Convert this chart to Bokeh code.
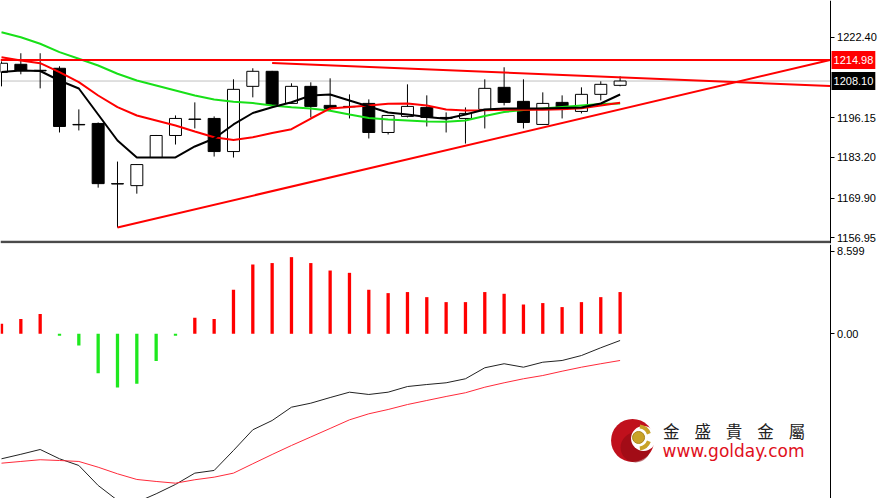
import numpy as np
from bokeh.plotting import figure
from bokeh.layouts import column
from bokeh.models import ColumnDataSource, Range1d, FixedTicker, Label, PrintfTickFormatter
from bokeh.core.properties import value
from bokeh.embed import file_html
from bokeh.resources import INLINE

# ---------------- data ----------------
bar_index = list(range(33))
open_ = [1210.95, 1213.56, 1211.60, 1212.26, 1193.93, 1194.26, 1174.62, 1173.97, 1183.13, 1190.33,
         1195.57, 1195.89, 1185.09, 1206.36, 1211.27, 1200.80, 1206.36, 1200.15, 1199.82, 1200.80,
         1191.31, 1196.55, 1199.49, 1196.22, 1195.89, 1198.84, 1206.04, 1201.46, 1193.93, 1201.13,
         1198.18, 1203.75, 1206.69]
high = [1214.50, 1217.16, 1217.16, 1212.91, 1198.84, 1194.58, 1181.82, 1181.00, 1190.50, 1196.87,
        1201.13, 1196.55, 1208.66, 1212.26, 1211.40, 1207.35, 1207.67, 1208.98, 1203.75, 1202.11,
        1196.87, 1207.02, 1203.42, 1197.86, 1199.49, 1208.66, 1212.58, 1208.66, 1204.40, 1203.42,
        1206.04, 1208.00, 1209.64]
low = [1206.36, 1210.29, 1205.71, 1191.31, 1191.97, 1173.31, 1160.31, 1171.35, 1183.13, 1187.38,
       1192.62, 1183.46, 1183.13, 1202.77, 1199.82, 1200.60, 1196.22, 1198.51, 1195.89, 1189.35,
       1190.66, 1196.22, 1193.27, 1191.31, 1187.70, 1192.62, 1200.15, 1192.62, 1193.93, 1195.89,
       1197.53, 1201.78, 1206.36]
close = [1213.89, 1211.60, 1211.40, 1193.27, 1193.80, 1174.62, 1174.50, 1180.84, 1190.33, 1195.89,
         1195.70, 1185.09, 1205.38, 1211.27, 1200.47, 1206.36, 1199.82, 1199.17, 1199.70, 1191.31,
         1196.87, 1199.82, 1196.22, 1195.89, 1197.53, 1205.71, 1201.13, 1194.58, 1200.80, 1199.49,
         1203.75, 1207.02, 1208.10]

ma_fast = [1211.05, 1211.53, 1211.37, 1208.27, 1205.66, 1197.18, 1188.70, 1183.15, 1183.15, 1183.15,
           1186.74, 1189.35, 1193.92, 1197.67, 1199.56, 1201.19, 1203.38, 1203.70, 1201.75, 1199.79,
           1197.83, 1197.18, 1196.36, 1195.78, 1197.18, 1198.81, 1199.14, 1199.14, 1199.14, 1199.30,
           1199.46, 1200.77, 1203.70]
ma_mid = [1215.87, 1214.80, 1213.92, 1210.98, 1207.72, 1203.38, 1199.56, 1196.85, 1195.22, 1193.59,
          1191.63, 1189.77, 1188.86, 1189.77, 1191.14, 1192.38, 1195.87, 1199.14, 1199.63, 1200.12,
          1200.67, 1200.77, 1200.12, 1198.81, 1198.48, 1198.58, 1198.71, 1198.71, 1198.71, 1198.91,
          1199.23, 1200.12, 1201.00]
ma_slow = [1224.03, 1222.40, 1220.25, 1217.51, 1215.35, 1213.17, 1210.46, 1208.27, 1206.64, 1205.01,
           1203.38, 1202.07, 1201.36, 1200.93, 1200.12, 1199.56, 1199.14, 1198.39, 1197.18, 1196.04,
           1195.55, 1195.22, 1194.90, 1194.83, 1195.22, 1196.69, 1197.99, 1198.65, 1199.14, 1199.63,
           1200.12, 1200.60, 1200.77]

macd_hist = [1.04, 1.54, 2.06, -0.21, -1.22, -4.11, -5.61, -5.22, -2.85, -0.21,
             1.67, 1.54, 4.60, 7.24, 7.39, 8.01, 7.39, 6.61, 6.37, 4.60,
             4.25, 4.36, 3.83, 3.31, 3.31, 4.36, 4.18, 3.06, 3.21, 2.79,
             3.31, 3.83, 4.36]
macd_main = [-13.06, -12.59, -12.09, -13.06, -13.76, -15.85, -17.40, -17.60, -16.72, -15.74,
             -14.56, -14.28, -12.19, -10.03, -9.06, -7.67, -7.25, -6.66, -6.10, -6.34,
             -6.10, -5.51, -5.30, -5.12, -4.70, -3.55, -3.13, -3.49, -2.97, -2.79,
             -2.27, -1.46, -0.70]
macd_signal = [-13.52, -13.34, -13.16, -13.24, -13.34, -13.94, -14.63, -15.22, -15.43, -15.61,
               -15.25, -14.98, -14.56, -13.58, -12.61, -11.67, -10.78, -9.89, -8.99, -8.36,
               -7.91, -7.39, -6.97, -6.55, -6.16, -5.58, -5.12, -4.70, -4.36, -3.91,
               -3.49, -3.13, -2.79]

price_ticks = [1156.95, 1169.90, 1183.20, 1196.15, 1222.40]
macd_ticks = [0.0, 8.599]
resistance_level = 1214.98
last_price = 1208.10
support_x = [6, 42.86]
support_y = [1160.31, 1214.98]
falling_x = [14, 42.86]
falling_y = [1213.98, 1206.48]

brand_cn = ["金", "盛", "貴", "金", "屬"]
brand_url = "www.golday.com"

# ---------------- layout ----------------
W = 880
H1 = 244          # price panel (frame 243 px + 1 px border)
H2 = 254          # indicator panel
X0, X1 = -0.052, 45.47
AXIS_X = 42.86    # position of the price scale inside the frame
BODY_W = 0.62
HIST_W = 0.17
x_range = Range1d(X0, X1)

def style(p, ticks):
    p.xgrid.visible = False
    p.ygrid.visible = False
    p.outline_line_color = None
    p.background_fill_color = "white"
    p.border_fill_color = "white"
    ax = p.yaxis[0]
    ax.fixed_location = AXIS_X
    ax.ticker = FixedTicker(ticks=ticks)
    ax.axis_line_color = "black"
    ax.axis_line_width = 1
    ax.major_tick_in = 0
    ax.major_tick_out = 4
    ax.minor_tick_in = 0
    ax.minor_tick_out = 0
    ax.major_tick_line_color = "black"
    ax.major_label_text_font = "Liberation Sans"
    ax.major_label_text_font_size = "11px"
    ax.major_label_text_color = "black"
    ax.major_label_standoff = 3

# ---------------- price panel ----------------
p1 = figure(width=W, height=H1, x_range=x_range, y_range=Range1d(1155.09, 1234.37),
            output_backend="svg", toolbar_location=None, x_axis_location=None,
            y_axis_location="right", min_border_left=0, min_border_top=0,
            min_border_bottom=1, min_border_right=0)
style(p1, price_ticks)
p1.yaxis.formatter = PrintfTickFormatter(format="%.2f")

# current price line (grey)
p1.segment(x0=[X0], y0=[last_price], x1=[AXIS_X], y1=[last_price], line_color="#c0c0c0", line_width=1)

o = np.array(open_); c = np.array(close)
up = c >= o
src = ColumnDataSource(dict(
    x=bar_index, high=high, low=low,
    top=np.maximum(o, c), bottom=np.minimum(o, c),
    fill=np.where(up, "white", "black"),
))
p1.segment(x0="x", y0="low", x1="x", y1="high", source=src, line_color="black", line_width=1)
p1.vbar(x="x", width=BODY_W, top="top", bottom="bottom", source=src,
        fill_color="fill", line_color="black", line_width=1)

p1.line(bar_index, ma_slow, line_color="#18e018", line_width=2)
p1.line(bar_index, ma_mid, line_color="#ff0000", line_width=2)
p1.line(bar_index, ma_fast, line_color="black", line_width=2)

p1.segment(x0=[X0], y0=[resistance_level], x1=[AXIS_X], y1=[resistance_level],
           line_color="#ff0000", line_width=2)
p1.line(support_x, support_y, line_color="#ff0000", line_width=2)
p1.line(falling_x, falling_y, line_color="#ff0000", line_width=2)

# panel separator
p1.segment(x0=[X0], y0=[1155.55], x1=[AXIS_X], y1=[1155.55], line_color="#4a4a4a", line_width=2.5)

for lvl, bg in [(resistance_level, "#ff0000"), (last_price, "black")]:
    p1.add_layout(Label(x=AXIS_X, y=lvl, x_offset=1.5, text="%.2f" % lvl, text_color="white",
                        text_font="Liberation Sans", text_font_size="11px",
                        text_baseline="middle", text_align="left",
                        background_fill_color=bg, padding=(2, 5)))

# ---------------- MACD panel ----------------
p2 = figure(width=W, height=H2, x_range=x_range, y_range=Range1d(-17.21, 9.33),
            output_backend="svg", toolbar_location=None, x_axis_location=None,
            y_axis_location="right", min_border_left=0, min_border_top=0,
            min_border_bottom=0, min_border_right=0)
style(p2, macd_ticks)
p2.yaxis.major_label_overrides = {0.0: "0.00", 8.599: "8.599"}

h = np.array(macd_hist)
hsrc = ColumnDataSource(dict(x=bar_index, top=np.maximum(h, 0), bottom=np.minimum(h, 0),
                             color=np.where(h >= 0, "#ff0000", "#1ee81e")))
p2.vbar(x="x", width=HIST_W, top="top", bottom="bottom", source=hsrc,
        fill_color="color", line_color=None)
p2.line(bar_index, macd_main, line_color="#222222", line_width=1)
p2.line(bar_index, macd_signal, line_color="#ff2a3a", line_width=1)

# watermark logo (reference pixel positions -> data)
def mx(px):
    return (px - 1) / 19.33

def my(py):
    return (333.3 - py) * 0.10448

p2.scatter([mx(632)], [my(440)], size=43, marker="circle", fill_color="#c0101c", line_color=None)
p2.scatter([mx(635)], [my(447)], size=30, marker="circle", fill_color="#8e0a12", line_color=None, fill_alpha=0.6)
p2.scatter([mx(643)], [my(438)], size=25, marker="circle", fill_color="white", line_color=None)
p2.annular_wedge([mx(638)], [my(437)], inner_radius=9, outer_radius=13, inner_radius_units="screen",
                 outer_radius_units="screen", start_angle=0.35, end_angle=1.45,
                 fill_color="#c9a227", line_color=None)
p2.annular_wedge([mx(638)], [my(437)], inner_radius=9, outer_radius=13, inner_radius_units="screen",
                 outer_radius_units="screen", start_angle=-1.45, end_angle=-0.35,
                 fill_color="#c9a227", line_color=None)
p2.scatter([mx(638)], [my(437)], size=12, marker="circle", fill_color="#c9a227", line_color="#a8841a")

p2.text(x=[mx(662.5 + 31.4 * k) for k in range(len(brand_cn))], y=[my(431)] * len(brand_cn),
        text=brand_cn, text_font=value("Noto Sans CJK TC"), text_font_size="16.5px",
        text_color="#222222", text_baseline="middle", text_align="left")
p2.text(x=[mx(662)], y=[my(451)], text=[brand_url], text_font=value("DejaVu Sans"),
        text_font_size="17px", text_color="#e0101c", text_baseline="middle", text_align="left")

layout = column(p1, p2, spacing=0)
open("out.html", "w").write(file_html(layout, INLINE))
